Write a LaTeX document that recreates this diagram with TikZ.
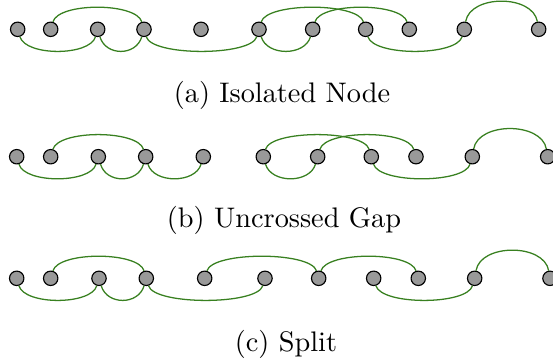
\documentclass[tikz,border=0pt]{standalone}
\usepackage{tikz}
\definecolor{arcgreen}{RGB}{56,128,32}
\begin{document}
\begin{tikzpicture}[x=0.3534pt, y=0.3534pt,
  vertex/.style={draw, fill=black!40, circle, inner sep=0, minimum size=5.1pt, line width=0.4pt},
  arc/.style={draw=arcgreen, line width=0.45pt}]
\useasboundingbox (0,0) rectangle (553,360);
% (a)
\node[vertex] (a1) at (17.7,330.7) {};
\node[vertex] (a2) at (50.7,330.7) {};
\node[vertex] (a3) at (97.7,330.7) {};
\node[vertex] (a4) at (144,330.7) {};
\node[vertex] (a5) at (201,330.7) {};
\node[vertex] (a6) at (259,330.7) {};
\node[vertex] (a7) at (312.7,330.7) {};
\node[vertex] (a8) at (365.7,330.7) {};
\node[vertex] (a9) at (409.3,330.7) {};
\node[vertex] (a10) at (464.3,330.7) {};
\node[vertex] (a11) at (538.7,330.7) {};
\draw[arc] (a2) .. controls +(8,27) and +(-8,27) .. (a4);
\draw[arc] (a6) .. controls +(8,27) and +(-8,27) .. (a8);
\draw[arc] (a7) .. controls +(8,27) and +(-8,27) .. (a9);
\draw[arc] (a10) .. controls +(6,35) and +(-6,35) .. (a11);
\draw[arc] (a1) .. controls +(8,-27) and +(-8,-27) .. (a3);
\draw[arc] (a3) .. controls +(8,-27) and +(-8,-27) .. (a4);
\draw[arc] (a4) .. controls +(8,-27) and +(-8,-27) .. (a6);
\draw[arc] (a6) .. controls +(8,-27) and +(-8,-27) .. (a7);
\draw[arc] (a8) .. controls +(8,-27) and +(-8,-27) .. (a10);
\node[anchor=base] (capa) at (282,257.7) {(a) Isolated Node};
% (b)
\node[vertex] (b1) at (16.7,203.3) {};
\node[vertex] (b2) at (50.7,203.3) {};
\node[vertex] (b3) at (98.3,203.3) {};
\node[vertex] (b4) at (145.7,203.3) {};
\node[vertex] (b5) at (203.3,203.3) {};
\node[vertex] (b6) at (263.3,203.3) {};
\node[vertex] (b7) at (317.7,203.3) {};
\node[vertex] (b8) at (371.3,203.3) {};
\node[vertex] (b9) at (416,203.3) {};
\node[vertex] (b10) at (472.3,203.3) {};
\node[vertex] (b11) at (547.7,203.3) {};
\draw[arc] (b2) .. controls +(8,27) and +(-8,27) .. (b4);
\draw[arc] (b6) .. controls +(8,27) and +(-8,27) .. (b8);
\draw[arc] (b7) .. controls +(8,27) and +(-8,27) .. (b9);
\draw[arc] (b10) .. controls +(6,35) and +(-6,35) .. (b11);
\draw[arc] (b1) .. controls +(8,-27) and +(-8,-27) .. (b3);
\draw[arc] (b3) .. controls +(8,-27) and +(-8,-27) .. (b4);
\draw[arc] (b4) .. controls +(8,-27) and +(-8,-27) .. (b5);
\draw[arc] (b6) .. controls +(8,-27) and +(-8,-27) .. (b7);
\draw[arc] (b8) .. controls +(8,-27) and +(-8,-27) .. (b10);
\node[anchor=base] (capb) at (284,133) {(b) Uncrossed Gap};
% (c)
\node[vertex] (c1) at (16.7,81.7) {};
\node[vertex] (c2) at (50.7,81.7) {};
\node[vertex] (c3) at (99,81.7) {};
\node[vertex] (c4) at (146.3,81.7) {};
\node[vertex] (c5) at (204.7,81.7) {};
\node[vertex] (c6) at (265,81.7) {};
\node[vertex] (c7) at (318.7,81.7) {};
\node[vertex] (c8) at (373.7,81.7) {};
\node[vertex] (c9) at (418.3,81.7) {};
\node[vertex] (c10) at (474.7,81.7) {};
\node[vertex] (c11) at (550,81.7) {};
\draw[arc] (c2) .. controls +(8,27) and +(-8,27) .. (c4);
\draw[arc] (c5) .. controls +(8,27) and +(-8,27) .. (c7);
\draw[arc] (c7) .. controls +(8,27) and +(-8,27) .. (c9);
\draw[arc] (c10) .. controls +(6,35) and +(-6,35) .. (c11);
\draw[arc] (c1) .. controls +(8,-27) and +(-8,-27) .. (c3);
\draw[arc] (c3) .. controls +(8,-27) and +(-8,-27) .. (c4);
\draw[arc] (c4) .. controls +(8,-27) and +(-8,-27) .. (c6);
\draw[arc] (c8) .. controls +(8,-27) and +(-8,-27) .. (c10);
\node[anchor=base] (capc) at (286,9) {(c) Split};
\end{tikzpicture}
\end{document}
